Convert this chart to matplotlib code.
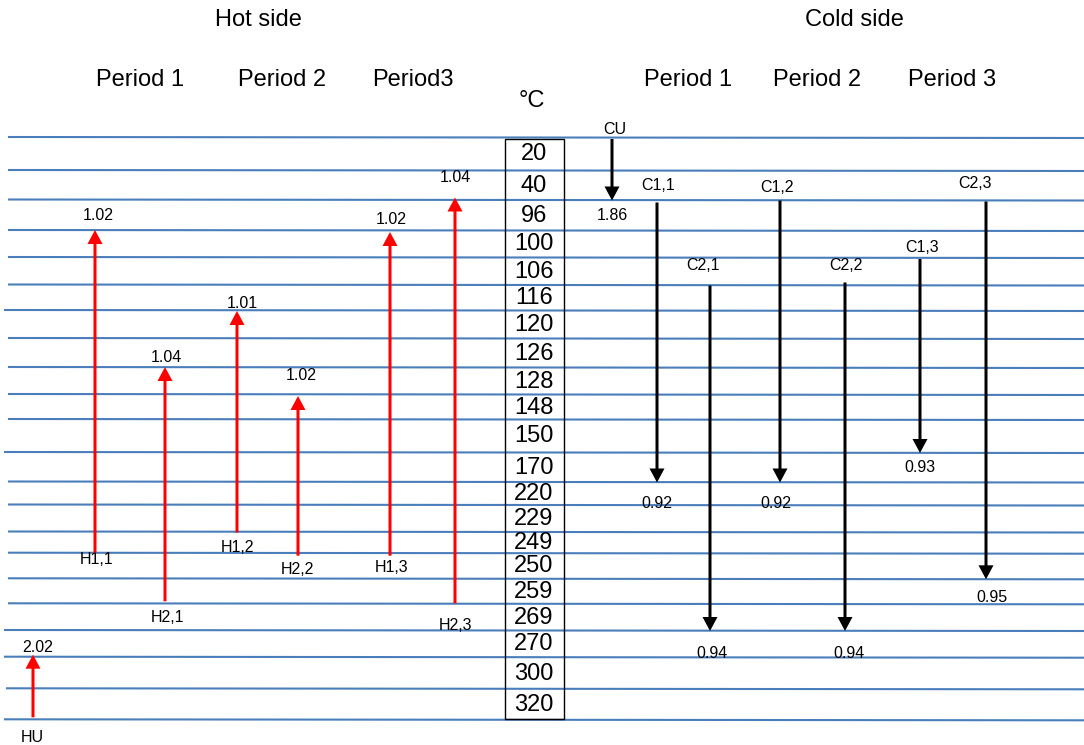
import matplotlib.pyplot as plt

plt.rcParams['font.family'] = ['Liberation Sans', 'DejaVu Sans']

# temperature intervals (one per row of the grid)
temps = [20, 40, 96, 100, 106, 116, 120, 126, 128, 148, 150, 170,
         220, 229, 249, 250, 259, 269, 270, 300, 320]

# hot side streams: name, duty, start/end boundary index (boundary k = top of row k)
hot_names = ["H1,1", "H2,1", "H1,2", "H2,2", "H1,3", "H2,3", "HU"]
hot_duty = ["1.02", "1.04", "1.01", "1.02", "1.02", "1.04", "2.02"]
hot_from = [15, 17, 14, 15, 15, 17, 21]
hot_to = [3, 8, 6, 9, 3, 2, 19]

# cold side streams
cold_names = ["CU", "C1,1", "C2,1", "C1,2", "C2,2", "C1,3", "C2,3"]
cold_duty = ["1.86", "0.92", "0.94", "0.92", "0.94", "0.93", "0.95"]
cold_from = [0, 2, 5, 2, 5, 4, 2]
cold_to = [2, 12, 18, 12, 18, 11, 16]

# ---- layout (pixel coordinates of the drawing) ----
row_lines = [137, 170, 199.5, 230, 257, 284.5, 310, 338, 367, 394, 419, 452,
             481.5, 504.5, 531.5, 552.7, 578.3, 603.3, 630, 656.7, 688.3, 719.3]
line_x0 = [9, 9, 9, 9, 9, 9, 5, 9, 9, 9, 9, 5, 9, 9, 9, 9, 9, 9, 5, 5, 7, 5]

hot_x = [95, 165, 237, 298, 390, 455, 33]
hot_start_fix = [0, -2, 1, 3, 3, 0, -2]
hot_tip_fix = [0, 0, 1, 2, 2, -2, -2]
hot_name_xy = [(97, 560), (168, 617), (238, 548), (297, 570), (392, 568), (456, 626), (32, 737)]
hot_duty_xy = [(98, 216), (166, 357), (242, 303), (301, 376), (391, 219), (455, 177), (38, 648)]

cold_x = [612, 657, 710, 780, 845, 920, 986]
cold_start_fix = [2, 3, 1, 1, -2, 2, 2]
cold_name_xy = [(615, 129), (658, 186), (703, 265), (777, 187), (846, 266), (922, 247), (975, 183)]
cold_duty_xy = [(612, 216), (657, 504), (712, 654), (776, 504), (849, 654), (920, 467), (992, 597)]

line_color = "#4A7EBB"
big = 17
small = 11.5

dpi = 100
fig = plt.figure(figsize=(1084 / dpi, 745 / dpi), dpi=dpi)
ax = fig.add_axes([0, 0, 1, 1])
ax.set_xlim(0, 1084)
ax.set_ylim(745, 0)
ax.axis("off")

# horizontal interval lines
for y, x0 in zip(row_lines, line_x0):
    ax.plot([x0, 1084], [y, y + 1], color=line_color, lw=1.5, zorder=1)

# temperature column
ax.add_patch(plt.Rectangle((505, 139), 59, 580, fill=False, ec="black", lw=1.0, zorder=2))
for k, t in enumerate(temps):
    yc = (row_lines[k] + row_lines[k + 1]) / 2 + 1
    ax.text(534, yc, str(t), ha="center", va="center", fontsize=big, zorder=3)

# headers
ax.text(258, 20, "Hot side", ha="center", va="center", fontsize=big)
ax.text(854, 20, "Cold side", ha="center", va="center", fontsize=big)
for x, s in zip([140, 282, 413], ["Period 1", "Period 2", "Period3"]):
    ax.text(x, 80, s, ha="center", va="center", fontsize=big)
for x, s in zip([688, 817, 952], ["Period 1", "Period 2", "Period 3"]):
    ax.text(x, 80, s, ha="center", va="center", fontsize=big)
ax.text(532, 101, "°C", ha="center", va="center", fontsize=big)

# hot streams: red arrows pointing up
for i in range(len(hot_names)):
    y0 = row_lines[hot_from[i]] + hot_start_fix[i]
    y1 = row_lines[hot_to[i]] + hot_tip_fix[i]
    ax.arrow(hot_x[i], y0, 0, y1 - y0, width=3, head_width=15, head_length=14,
             length_includes_head=True, color="red", lw=0, zorder=4)
    ax.text(*hot_name_xy[i], hot_names[i], ha="center", va="center", fontsize=small)
    ax.text(*hot_duty_xy[i], hot_duty[i], ha="center", va="center", fontsize=small)

# cold streams: black arrows pointing down
for i in range(len(cold_names)):
    y0 = row_lines[cold_from[i]] + cold_start_fix[i]
    y1 = row_lines[cold_to[i]] + 1
    ax.arrow(cold_x[i], y0, 0, y1 - y0, width=3, head_width=15, head_length=14,
             length_includes_head=True, color="black", lw=0, zorder=4)
    ax.text(*cold_name_xy[i], cold_names[i], ha="center", va="center", fontsize=small)
    ax.text(*cold_duty_xy[i], cold_duty[i], ha="center", va="center", fontsize=small)

plt.savefig("out.png", dpi=dpi)
